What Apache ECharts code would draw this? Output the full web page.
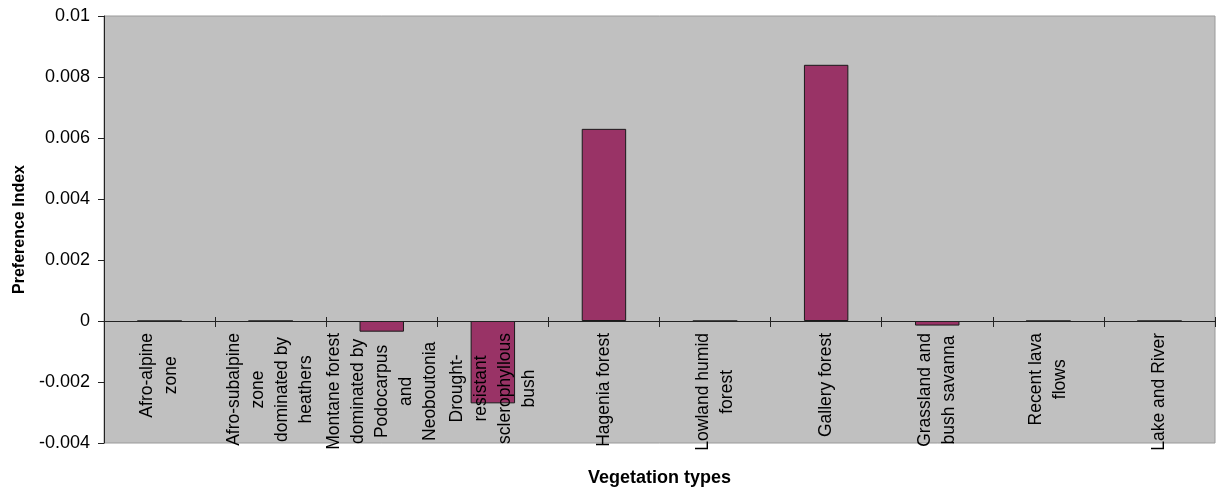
<!DOCTYPE html>
<html>
<head>
<meta charset="utf-8">
<script src="https://cdn.jsdelivr.net/npm/echarts@6/dist/echarts.min.js"></script>
<style>html,body{margin:0;padding:0;background:#fff}#c{width:1216px;height:488px}</style>
</head>
<body>
<div id="c"></div>
<script>
const categories = [
  "Afro-alpine\nzone",
  "Afro-subalpine\nzone\ndominated by\nheathers",
  "Montane forest\ndominated by\nPodocarpus\nand\nNeoboutonia",
  "Drought-\nresistant\nsclerophyllous\nbush",
  "Hagenia forest",
  "Lowland humid\nforest",
  "Gallery forest",
  "Grassland and\nbush savanna",
  "Recent lava\nflows",
  "Lake and River"
];
const preferenceIndex = [0, 0, -0.00035, -0.0027, 0.0063, 0, 0.0084, -0.00015, 0, 0];
const yTicks = { min: -0.004, max: 0.01, interval: 0.002 };
const yTitle = "Preference Index";
const xTitle = "Vegetation types";

const FONT = "'Liberation Sans', Arial, sans-serif";
const GRID = { left: 104, right: 1, top: 16, bottom: 45 };
// pixel distance from grid bottom up to the zero line, derived from the y scale
const plotH = 488 - GRID.top - GRID.bottom;
const zeroOffset = -plotH * (0 - yTicks.min) / (yTicks.max - yTicks.min);

const chart = echarts.init(document.getElementById('c'));
chart.setOption({
  animation: false,
  grid: Object.assign({
    outerBoundsMode: 'none', containLabel: false,
    show: true, backgroundColor: '#C0C0C0', borderColor: '#9a9a9a', borderWidth: 1
  }, GRID),
  xAxis: [
    {
      type: 'category', data: categories, position: 'bottom', offset: zeroOffset, z: 5,
      axisLine: { onZero: false, lineStyle: { color: '#222', width: 1 } },
      axisTick: { show: true, inside: false, length: 6, lineStyle: { color: '#222' } },
      axisLabel: {
        interval: 0, rotate: 90, margin: 12,
        formatter: function (v) { return v.split('\n').map(function (l) { return '{c|' + l + '}'; }).join('\n'); },
        rich: { c: { align: 'center', fontSize: 17.5, lineHeight: 24, color: '#000', fontFamily: FONT } }
      },
      splitLine: { show: false }
    },
    {
      type: 'category', data: categories, position: 'bottom', offset: zeroOffset, z: 5,
      axisLine: { onZero: false, show: false },
      axisTick: { show: true, inside: true, length: 4, lineStyle: { color: '#222' } },
      axisLabel: { show: false },
      splitLine: { show: false }
    },
    {
      type: 'category', data: categories, position: 'bottom',
      axisLine: { onZero: false, show: false },
      axisTick: { show: false },
      axisLabel: { show: false },
      splitLine: { show: false },
      name: xTitle, nameLocation: 'middle', nameGap: 26,
      nameTextStyle: { fontSize: 18, fontWeight: 'bold', color: '#000', fontFamily: FONT }
    }
  ],
  yAxis: {
    type: 'value', min: yTicks.min, max: yTicks.max, interval: yTicks.interval,
    axisLine: { show: true, onZero: false, lineStyle: { color: '#222' } },
    axisTick: { show: true, length: 6, lineStyle: { color: '#222' } },
    axisLabel: { margin: 14, fontSize: 18, color: '#000', fontFamily: FONT },
    splitLine: { show: false },
    name: yTitle, nameLocation: 'middle', nameRotate: 90, nameGap: 73,
    nameTextStyle: { fontSize: 16, fontWeight: 'bold', color: '#000', fontFamily: FONT }
  },
  series: [{
    type: 'bar', xAxisIndex: 0, data: preferenceIndex, barWidth: '40%',
    itemStyle: { color: '#993366', borderColor: '#1a1a1a', borderWidth: 1 }
  }]
});
</script>
</body>
</html>
